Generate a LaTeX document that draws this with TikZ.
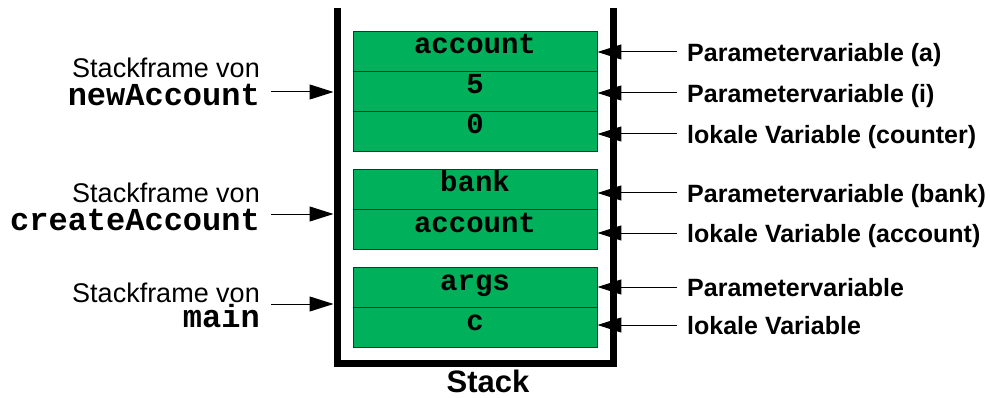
\documentclass[tikz,border=0pt]{standalone}
\usepackage{fontspec}
\setmainfont{Liberation Sans}
\newfontfamily\codefont{Liberation Mono}
\usetikzlibrary{arrows.meta}
\definecolor{cellgreen}{RGB}{0,176,90}
\definecolor{celledge}{RGB}{20,60,35}
\begin{document}
\begin{tikzpicture}[x=1pt,y=-1pt,
  cell/.style={draw=celledge, line width=0.9pt, fill=cellgreen,
    minimum width=244pt, minimum height=40pt, inner sep=0pt,
    font=\codefont\bfseries\fontsize{29}{29}\selectfont,
    text height=12pt, text depth=6pt},
  rlbl/.style={anchor=west, inner xsep=10pt, inner ysep=0pt,
    text height=18.5pt, text depth=0pt,
    font=\bfseries\fontsize{25}{25}\selectfont},
  llbl/.style={anchor=base east, inner sep=0pt,
    font=\fontsize{27}{27}\selectfont},
  lcode/.style={anchor=base east, inner sep=0pt,
    font=\codefont\bfseries\fontsize{32}{32}\selectfont},
  arr/.style={line width=1pt, -{Triangle[length=24pt,width=15pt]}},
  wall/.style={line width=7pt, line join=miter}
]
\useasboundingbox (0,0) rectangle (990,398);

% stack container
\coordinate (WL) at (333.5,0);
\draw[wall] (337,8) -- (337,363.5) -- (613,363.5) -- (613,8);
\node[anchor=base, inner sep=0pt, font=\bfseries\fontsize{31}{31}\selectfont] (stack) at (488,392) {Stack};

% cells
\node[cell] (c1) at (475,51) {account};
\node[cell] (c2) at (475,91) {5};
\node[cell] (c3) at (475,131) {0};
\node[cell] (c4) at (475,189) {bank};
\node[cell] (c5) at (475,229) {account};
\node[cell] (c6) at (475,287) {args};
\node[cell] (c7) at (475,327) {c};

% right labels
\node[rlbl] (r1) at (677,52) {Parametervariable (a)};
\node[rlbl] (r2) at (677,93) {Parametervariable (i)};
\node[rlbl] (r3) at (677,134) {lokale Variable (counter)};
\node[rlbl] (r4) at (677,193) {Parametervariable (bank)};
\node[rlbl] (r5) at (677,233) {lokale Variable (account)};
\node[rlbl] (r6) at (677,287) {Parametervariable};
\node[rlbl] (r7) at (677,325) {lokale Variable};

\foreach \r/\c in {r1/c1,r2/c2,r3/c3,r4/c4,r5/c5,r6/c6,r7/c7}
  \draw[arr] (\r.west) -- (\r.west -| \c.east);

% left labels
\node[llbl] (l1a) at (260,77.5) {Stackframe von};
\node[lcode] (l1b) at (260,105.5) {newAccount};
\node[llbl] (l2a) at (260,202.5) {Stackframe von};
\node[lcode] (l2b) at (260,230.5) {createAccount};
\node[llbl] (l3a) at (260,302) {Stackframe von};
\node[lcode] (l3b) at (260,327) {main};

\coordinate (s1) at (271,92);
\coordinate (s2) at (271,214);
\coordinate (s3) at (271,304);
\foreach \s in {s1,s2,s3}
  \draw[arr] (\s) -- (\s -| WL);
\end{tikzpicture}
\end{document}
